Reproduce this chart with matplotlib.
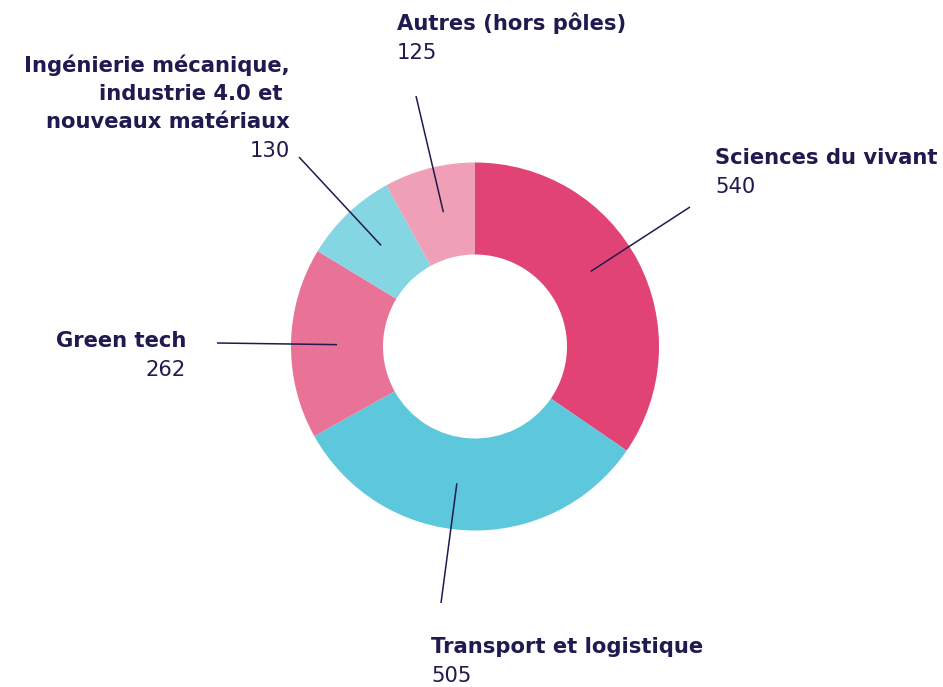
import numpy as np
import matplotlib.pyplot as plt

# Répartition par pôle
labels = ["Sciences du vivant", "Transport et logistique", "Green tech",
          "Ingénierie mécanique,\nindustrie 4.0 et \nnouveaux matériaux",
          "Autres (hors pôles)"]
values = [540, 505, 262, 130, 125]
colors = ["#E04374", "#5DC8DB", "#E87396", "#84D6E3", "#EFA0B7"]

W, H = 943, 687
navy = "#1F1A4F"
cx, cy = 475, H - 346.5
r_out, r_in = 184, 92

# label anchor (x, baseline y of last line in px from top), alignment, leader end point
label_pos = [(715, 164, "left", (690, 207)),
             (431, 653, "left", (441, 603)),
             (186, 347, "right", (217, 343)),
             (290, 128, "right", (299, 157)),
             (397, 30, "left", (416, 96))]

plt.rcParams['font.family'] = ['DejaVu Sans']

fig = plt.figure(figsize=(W / 100, H / 100), dpi=100)
ax = fig.add_axes([0, 0, 1, 1])
ax.pie(values, radius=r_out, center=(cx, cy), startangle=90, counterclock=False,
       colors=colors, wedgeprops=dict(width=r_out - r_in, linewidth=0))
ax.set_xlim(0, W)
ax.set_ylim(0, H)
ax.set_aspect('equal')
ax.axis('off')

fs = 15.2
line_h = 28.7
r_mid = (r_out + r_in) / 2
for i, (lab, val) in enumerate(zip(labels, values)):
    tx, ty, ha, (ex, ey) = label_pos[i]
    # leader runs radially from the middle of the ring out to the label
    ey = H - ey
    d = np.hypot(ex - cx, ey - cy)
    x0 = cx + r_mid * (ex - cx) / d
    y0 = cy + r_mid * (ey - cy) / d
    ax.plot([x0, ex], [y0, ey], color=navy, lw=1.1, solid_capstyle='butt')
    ax.text(tx, H - ty, lab, ha=ha, va='baseline', fontsize=fs, fontweight='bold',
            color=navy, multialignment=ha, linespacing=1.51)
    ax.text(tx, H - (ty + line_h), str(val), ha=ha, va='baseline',
            fontsize=fs, fontweight='normal', color=navy)

fig.savefig("out.png", dpi=100)
